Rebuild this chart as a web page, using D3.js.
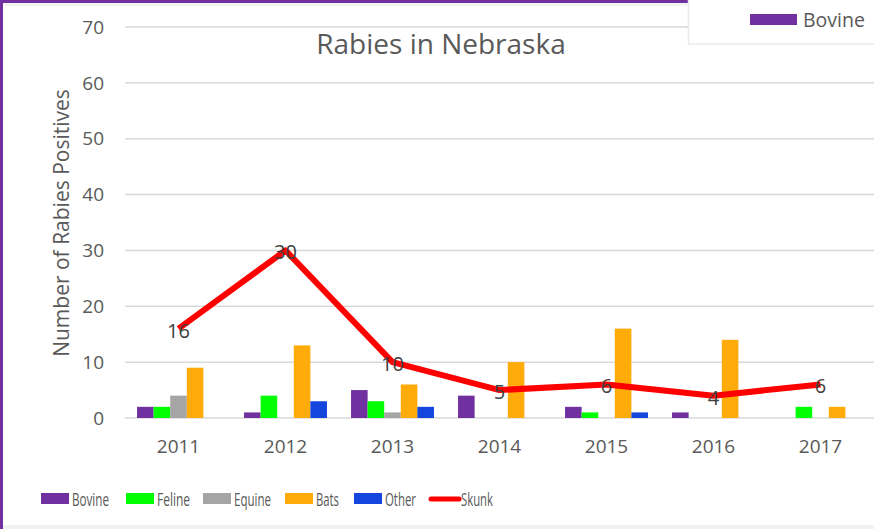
<!DOCTYPE html>
<html><head><meta charset="utf-8">
<script src="https://cdn.jsdelivr.net/npm/d3@7"></script>
<style>
html,body{margin:0;padding:0;background:#fff;}
svg{display:block;}
text{font-family:"Open Sans",sans-serif;fill:#595959;}
</style></head>
<body>
<svg id="c" width="874" height="529"></svg>
<script>
const years = ["2011","2012","2013","2014","2015","2016","2017"];
const barSeries = ["Bovine","Feline","Equine","Bats","Other"];
const bovine = [2,1,5,4,2,1,0];
const feline = [2,4,3,0,1,0,2];
const equine = [4,0,1,0,0,0,0];
const bats   = [9,13,6,10,16,14,2];
const other  = [0,3,2,0,1,0,0];
const skunk  = [16,30,10,5,6,4,6];
const yTicks = [0,10,20,30,40,50,60,70];
const colors = {Bovine:"#7030a0",Feline:"#00ff00",Equine:"#a5a5a5",Bats:"#ffab09",Other:"#1446de",Skunk:"#ff0000"};
const barData = [bovine,feline,equine,bats,other];

(function(){
const svg = d3.select("#c");
// frame
svg.append("rect").attr("x",0).attr("y",0).attr("width",874).attr("height",529).attr("fill","#fff");
svg.append("rect").attr("x",3).attr("y",3).attr("width",871).attr("height",3).attr("fill","#f2f2f2");
svg.append("rect").attr("x",3).attr("y",525).attr("width",871).attr("height",4).attr("fill","#f2f2f2");
svg.append("rect").attr("x",0).attr("y",0).attr("width",688).attr("height",3).attr("fill","#7030a0");
svg.append("rect").attr("x",0).attr("y",0).attr("width",3).attr("height",529).attr("fill","#7030a0");

const pL=125, pR=874, pT=27, pB=418;
const x = d3.scaleBand().domain(years).range([pL,pR]).paddingInner(0.225).paddingOuter(0.1125);
const xs = d3.scaleBand().domain(barSeries).range([0,x.bandwidth()]);
const y = d3.scaleLinear().domain([0,70]).range([pB,pT]);

// gridlines
svg.append("g").selectAll("line").data(yTicks).join("line")
  .attr("x1",pL).attr("x2",pR).attr("y1",d=>y(d)).attr("y2",d=>y(d))
  .attr("stroke","#d9d9d9").attr("stroke-width",1.5);

// y tick labels
svg.append("g").selectAll("text").data(yTicks).join("text")
  .attr("x",104).attr("y",d=>y(d)).attr("dy","0.35em").attr("text-anchor","end")
  .attr("font-size",19).text(d=>d);

// x labels
svg.append("g").selectAll("text").data(years).join("text")
  .attr("x",d=>x(d)+x.bandwidth()/2).attr("y",453).attr("text-anchor","middle")
  .attr("font-size",19).text(d=>d);

// title
svg.append("text").attr("x",441).attr("y",54).attr("text-anchor","middle").attr("font-size",28).text("Rabies in Nebraska");

// y title
svg.append("text").attr("transform","translate(69,223) rotate(-90)").attr("text-anchor","middle")
  .attr("font-size",21).text("Number of Rabies Positives");

// bars
barSeries.forEach((s,i)=>{
  svg.append("g").selectAll("rect").data(years).join("rect")
    .attr("x",d=>x(d)+xs(s)).attr("width",xs.bandwidth())
    .attr("y",(d,j)=>y(barData[i][j])).attr("height",(d,j)=>y(0)-y(barData[i][j]))
    .attr("fill",colors[s]);
});

// skunk line
const line = d3.line().x((d,i)=>x(years[i])+x.bandwidth()/2).y(d=>y(d));
svg.append("path").datum(skunk).attr("d",line).attr("fill","none")
  .attr("stroke",colors.Skunk).attr("stroke-width",6).attr("stroke-linejoin","round");
svg.append("g").selectAll("text").data(skunk).join("text")
  .attr("x",(d,i)=>x(years[i])+x.bandwidth()/2).attr("y",d=>y(d)+2).attr("dy","0.35em")
  .attr("text-anchor","middle").attr("font-size",20).style("fill","#404040").text(d=>d);

// bottom legend
const legItems = ["Bovine","Feline","Equine","Bats","Other","Skunk"];
const legX = [41,126,203,285,354,429];
const lg = svg.append("g");
legItems.forEach((s,i)=>{
  if(s==="Skunk"){
    lg.append("line").attr("x1",legX[i]+2).attr("x2",legX[i]+30).attr("y1",499).attr("y2",499)
      .attr("stroke",colors[s]).attr("stroke-width",5).attr("stroke-linecap","round");
  } else {
    lg.append("rect").attr("x",legX[i]).attr("y",493).attr("width",28).attr("height",11).attr("fill",colors[s]);
  }
  const t = lg.append("text").attr("x",legX[i]+(s==="Skunk"?32:31)).attr("y",505.5).attr("font-size",19).text(s);
  const w = {Bovine:37,Feline:33,Equine:37,Bats:23,Other:31,Skunk:32}[s];
  t.attr("textLength",w).attr("lengthAdjust","spacingAndGlyphs");
});

// top right legend box
svg.append("rect").attr("x",688.5).attr("y",-1).attr("width",190).attr("height",45)
  .attr("fill","#fff").attr("stroke","#ebebeb").attr("stroke-width",1.5);
svg.append("rect").attr("x",750).attr("y",14).attr("width",47).attr("height",11).attr("fill",colors.Bovine);
svg.append("text").attr("x",803).attr("y",27).attr("font-size",19.5).text("Bovine");
})();
</script>
</body></html>
